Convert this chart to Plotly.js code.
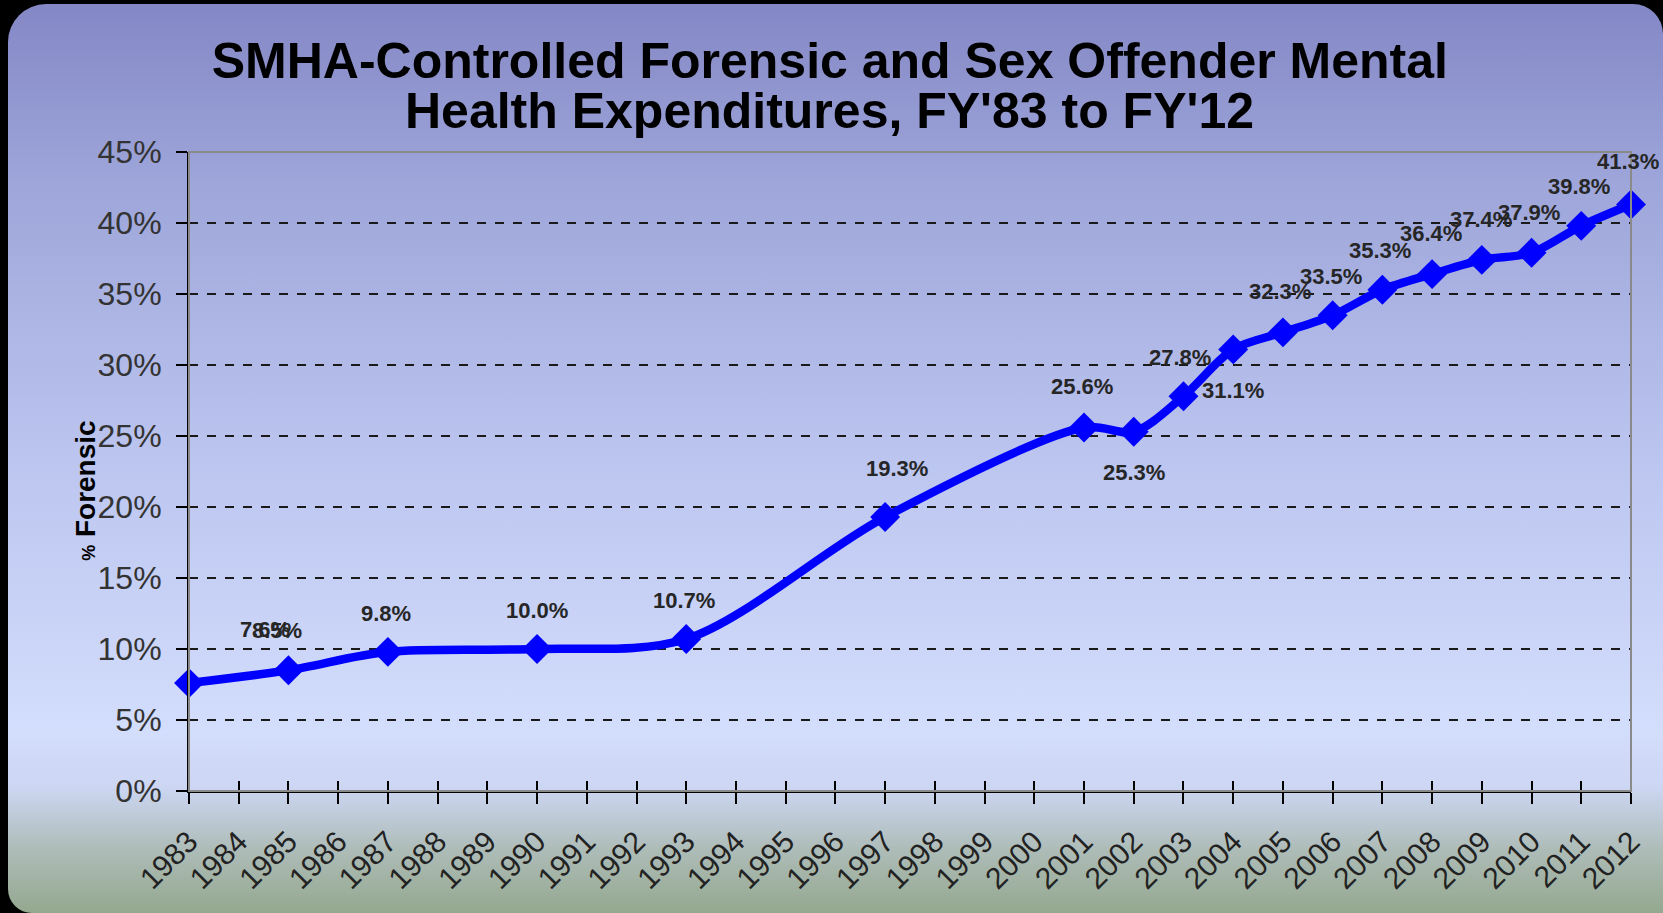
<!DOCTYPE html>
<html>
<head>
<meta charset="utf-8">
<script src="https://cdn.plot.ly/plotly-3.0.1.min.js"></script>
<style>
  html, body { margin: 0; padding: 0; background: #000; }
  #slide {
    position: absolute; left: 8px; top: 4px; width: 1655px; height: 909px;
    border-radius: 38px 30px 0 24px;
    background: linear-gradient(to bottom, #8487c5 0%, #9ea6da 20%, #bcc5ef 50%, #d3ddfc 80%, #cdd7f4 86%, #aebcb8 93%, #94a88f 100%);
  }
  #chart { position: absolute; left: 0; top: 0; width: 1663px; height: 913px; }
</style>
</head>
<body>
<div id="slide"></div>
<div id="chart"></div>
<script>
// every fiscal year on the axis
var allYears = [];
for (var yr = 1983; yr <= 2012; yr++) allYears.push(String(yr));

// years that have a value
var years = ["1983", "1985", "1987", "1990", "1993", "1997", "2001", "2002", "2003", "2004",
             "2005", "2006", "2007", "2008", "2009", "2010", "2011", "2012"];
var forensicPct = [7.6, 8.5, 9.8, 10.0, 10.7, 19.3, 25.6, 25.3, 27.8, 31.1,
                   32.3, 33.5, 35.3, 36.4, 37.4, 37.9, 39.8, 41.3];

// label offsets in px (excel put them a bit oddly)
var labelDx = [76, -11, -2, 0, -2, 12, -2, 0, -3, 0, -3, -2, -2, -1, -1, -3, -2, -3];
var labelDy = [54, 40, 38, 39, 39, 48, 41, -41, 39, -41, 41, 39, 39, 41, 40, 40, 39, 43];

var line = {
  x: years,
  y: forensicPct,
  type: "scatter",
  mode: "lines+markers",
  line: {color: "#0000ff", width: 8.5, shape: "spline", smoothing: 0.9},
  marker: {symbol: "diamond", size: 23, color: "#0000ff"},
  cliponaxis: false,
  hoverinfo: "x+y"
};

var labels = years.map(function (y, i) {
  return {
    x: allYears.indexOf(y), y: forensicPct[i], xref: "x", yref: "y",
    text: "<b>" + forensicPct[i].toFixed(1) + "%</b>",
    showarrow: false, xshift: labelDx[i], yshift: labelDy[i],
    font: {family: "Liberation Sans, Arial", size: 22, color: "#262626"}
  };
});

labels.push({
  text: "<b>Health Expenditures, FY'83 to FY'12</b>",
  xref: "paper", yref: "paper", x: 0.4445, y: 1.064, xanchor: "center", yanchor: "middle",
  showarrow: false, font: {family: "Liberation Sans, Arial", size: 50, color: "#000"}
});
labels.push({
  text: "<b><span style='font-size:18px'>%</span> Forensic</b>",
  xref: "paper", yref: "paper", x: -0.072, y: 0.47, xanchor: "center", yanchor: "middle",
  textangle: -90, showarrow: false,
  font: {family: "Liberation Sans, Arial", size: 28, color: "#000"}
});

var layout = {
  width: 1663, height: 913,
  margin: {l: 189, r: 32, t: 152, b: 122},
  paper_bgcolor: "rgba(0,0,0,0)",
  plot_bgcolor: "rgba(0,0,0,0)",
  showlegend: false,
  title: {
    text: "<b>SMHA-Controlled Forensic and Sex Offender Mental</b>",
    x: 0.499, xanchor: "center", y: 0.934, yref: "container", yanchor: "middle",
    font: {family: "Liberation Sans, Arial", size: 50, color: "#000"}
  },
  xaxis: {
    type: "category", categoryorder: "array", categoryarray: allYears,
    tickvals: allYears, range: [0, 29],
    showline: true, linecolor: "#000", linewidth: 2,
    ticks: "outside", ticklen: 11, tickwidth: 1.5, tickcolor: "#000",
    tickangle: -45, showgrid: false, ticklabelstandoff: 8,
    tickfont: {family: "Liberation Sans, Arial", size: 30, color: "#222"}
  },
  xaxis2: {
    type: "category", categoryorder: "array", categoryarray: allYears,
    tickvals: allYears, range: [0, 29], overlaying: "x", anchor: "y",
    ticks: "inside", ticklen: 10, tickwidth: 1.5, tickcolor: "#000",
    showticklabels: false, showgrid: false, showline: false
  },
  yaxis: {
    range: [0, 45], dtick: 5, ticksuffix: "%",
    showline: true, linecolor: "#000", linewidth: 2,
    ticks: "outside", ticklen: 11, tickwidth: 1.5, tickcolor: "#000",
    showgrid: true, gridcolor: "#1a1a1a", gridwidth: 1.5, griddash: "dash",
    zeroline: false, ticklabelstandoff: 8,
    tickfont: {family: "Liberation Sans, Arial", size: 32, color: "#333"}
  },
  shapes: [{
    type: "rect", xref: "paper", yref: "paper", x0: 0, x1: 1, y0: 0, y1: 1,
    line: {color: "#8a8a8a", width: 2}, layer: "above"
  }],
  annotations: labels
};

var dummy = {x: allYears, y: allYears.map(function () { return null; }), xaxis: "x2",
             type: "scatter", mode: "lines", hoverinfo: "skip"};

Plotly.newPlot("chart", [dummy, line], layout, {displayModeBar: false});
</script>
</body>
</html>
